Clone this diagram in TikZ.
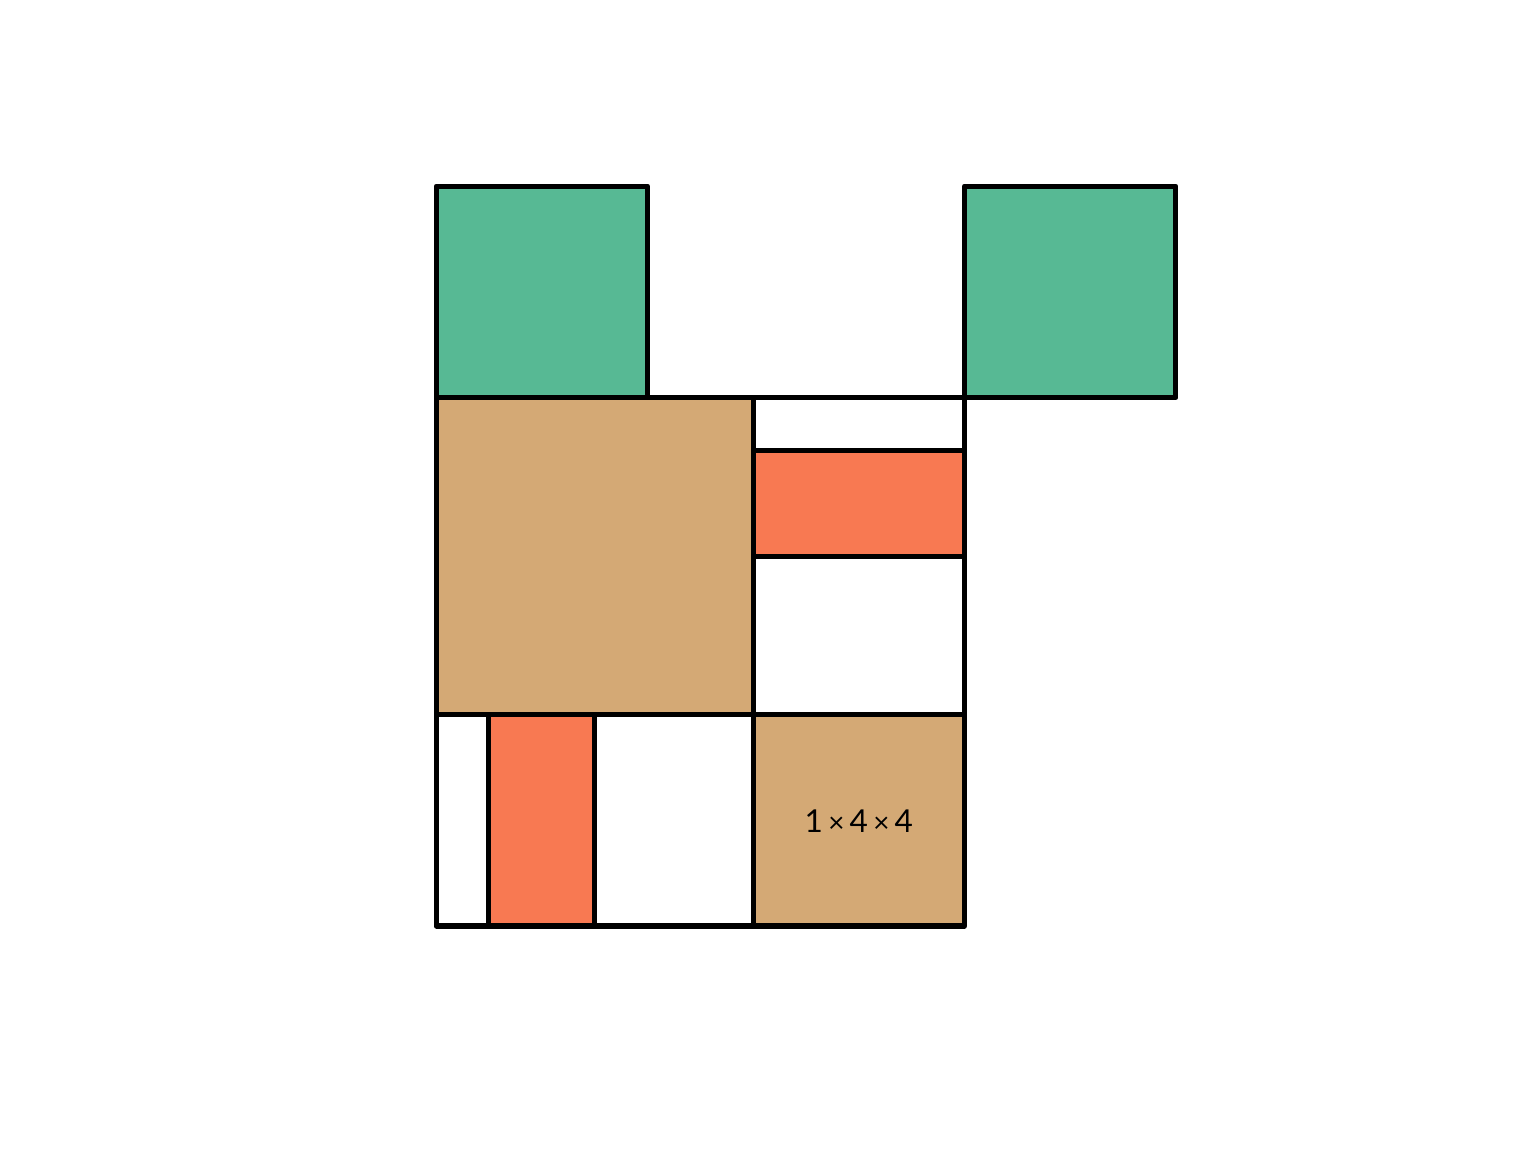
\documentclass[tikz,border=0pt]{standalone}
\usepackage{fontspec}
\setmainfont{Lato}
\definecolor{cgreen}{RGB}{87,185,148}
\definecolor{ctan}{RGB}{212,169,117}
\definecolor{corange}{RGB}{248,121,82}
\newcommand{\tms}{\,{\fontsize{15}{18}\selectfont ×}\,}
\begin{document}
\begin{tikzpicture}[
  cell/.style={draw=black, line width=2.7pt, line join=round, line cap=round},
]
\useasboundingbox (0,0) rectangle (29.063,21.797);
\begin{scope}[shift={(8.25,4.276)}]
\draw[cell, fill=cgreen] (0,10) rectangle (4,14);
\draw[cell, fill=cgreen] (10,10) rectangle (14,14);
\draw[cell, fill=ctan] (0,4) rectangle (6,10);
\draw[cell, fill=white] (6,9) rectangle (10,10);
\draw[cell, fill=corange] (6,7) rectangle (10,9);
\draw[cell, fill=white] (6,4) rectangle (10,7);
\draw[cell, fill=white] (0,0) rectangle (1,4);
\draw[cell, fill=corange] (1,0) rectangle (3,4);
\draw[cell, fill=white] (3,0) rectangle (6,4);
\draw[cell, fill=ctan] (6,0) rectangle (10,4);
\node (lbl) at (8,1.98) {\fontsize{17}{20}\selectfont 1\tms 4\tms 4};
\end{scope}
\end{tikzpicture}
\end{document}
